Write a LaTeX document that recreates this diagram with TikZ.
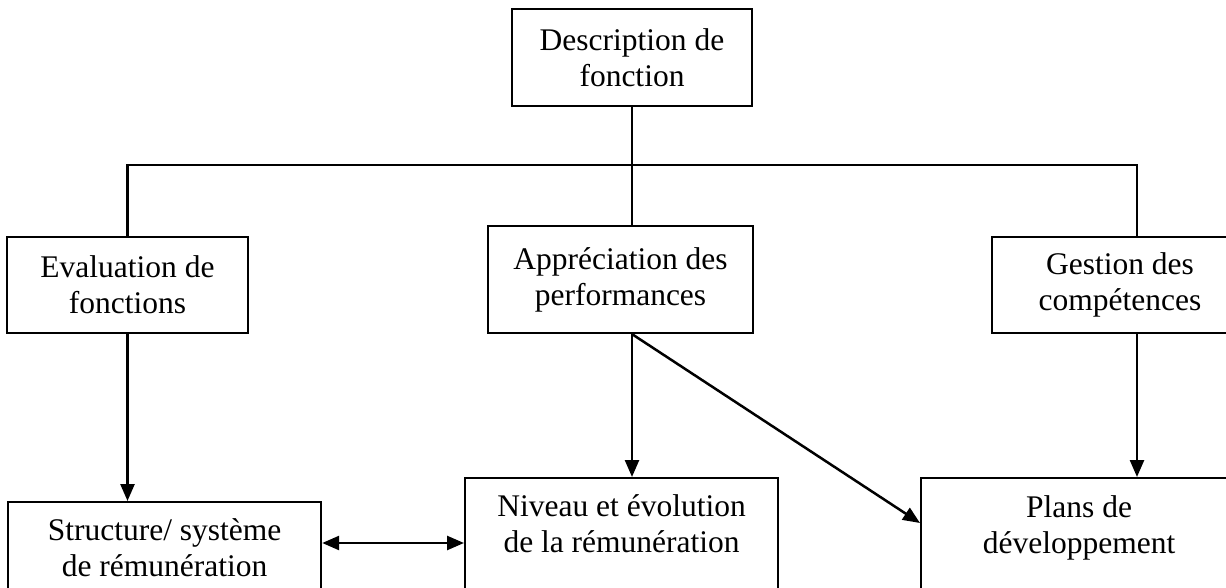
\documentclass[tikz,border=0pt]{standalone}
\usepackage{fontspec}
\setmainfont{Liberation Serif}
\usetikzlibrary{arrows.meta,positioning,calc}

\begin{document}
\begin{tikzpicture}[x=1pt, y=1pt, >={Triangle[length=17pt,width=14pt]},
  box/.style={draw, line width=2.2pt, inner sep=0pt},
  txt/.style={align=center, inner sep=0pt, font=\fontsize{31.5}{36}\selectfont},
  link/.style={line width=2.5pt}]

\useasboundingbox (0,0) rectangle (1226,587);

% Top box
\node[box, txt, minimum width=240, minimum height=97] (desc) at (632,529.5) {Description de\\fonction};

% Middle row
\node[box, txt, minimum width=241, minimum height=96] (eval) at (127.5,302) {Evaluation de\\fonctions};
\node[box, txt, minimum width=265, minimum height=107] (appr) at (620.5,307.5) {Appréciation des\\performances};
\node[box, txt, minimum width=256, minimum height=96] (gest) at (1120,302) {Gestion des\\compétences};

% Bottom row (boxes run off the page)
\node[box, minimum width=313, minimum height=150, anchor=north west] (struct) at (7,86) {};
\node[box, minimum width=313, minimum height=150, anchor=north west] (niveau) at (464,110) {};
\node[box, minimum width=316, minimum height=150, anchor=north west] (plans) at (920,110) {};

\node[txt, anchor=north] (structtxt) at ([yshift=-17.5]struct.north) {Structure/ système\\de rémunération};
\node[txt, anchor=north] (niveautxt) at ([yshift=-17]niveau.north) {Niveau et évolution\\de la rémunération};
\node[txt, anchor=north] (planstxt) at ([yshift=-18]plans.north) {Plans de\\développement};

% Tap points
\coordinate (atop) at ([xshift=11.5]appr.north);
\coordinate (atap) at ([xshift=11.5]appr.south);
\coordinate (gtop) at ([xshift=17]gest.north);
\coordinate (gtap) at ([xshift=17]gest.south);
\coordinate (sx) at ([yshift=-42]struct.north east);

% Tree lines
\draw[link] (desc.south) -- ++(0,-58) coordinate (bus);
\draw[link] (eval.north) |- (bus) -| (gtop);
\draw[link] (bus) -- (atop);

% Arrows
\draw[link,->] (eval.south) -- (eval.south |- struct.north);
\draw[link,->] (atap) -- (atap |- niveau.north);
\draw[link,->] (atap) -- ([yshift=-46]plans.north west);
\draw[link,->] (gtap) -- (gtap |- plans.north);
\draw[link,<->] (sx) -- (sx -| niveau.west);

\end{tikzpicture}
\end{document}
